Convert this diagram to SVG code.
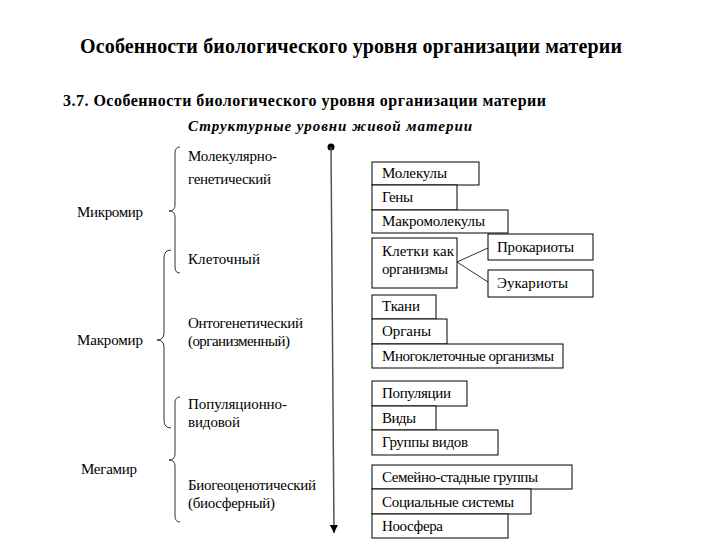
<svg xmlns="http://www.w3.org/2000/svg" width="720" height="540" viewBox="0 0 720 540">
<style>
text{font-family:"Liberation Serif","Times New Roman","DejaVu Serif",serif;fill:#000}
.t1{font-size:20px;font-weight:bold}
.t2{font-size:16px;font-weight:bold}
.t3{font-size:15px;font-weight:bold;font-style:italic}
.lb{font-size:15px}
.bx{fill:#fff;stroke:#000;stroke-width:1}
.br{fill:none;stroke:#333;stroke-width:1}
.cn{fill:none;stroke:#333;stroke-width:1}
</style>
<defs>
<marker id="ah" viewBox="0 0 10 10" refX="10" refY="5" markerWidth="8" markerHeight="8" markerUnits="userSpaceOnUse" orient="auto">
<path d="M0,0 L10,5 L0,10 z" fill="#000"/>
</marker>
</defs>
<rect width="720" height="540" fill="#fff"/>
<g id="titles">
<text class="t1" x="80" y="53" textLength="542">Особенности биологического уровня организации материи</text>
<text class="t2" x="63" y="106" textLength="483">3.7. Особенности биологического уровня организации материи</text>
<text class="t3" x="188" y="131" textLength="284">Структурные уровни живой материи</text>
</g>
<g id="connectors">
<circle cx="331" cy="147" r="3.5" fill="#000"/>
<line x1="331" y1="147" x2="334" y2="533" stroke="#555" stroke-width="1.5" marker-end="url(#ah)"/>
<line class="cn" x1="457" y1="262" x2="488" y2="248"/>
<line class="cn" x1="457" y1="262" x2="488" y2="282"/>
</g>
<g id="braces">
<path class="br" d="M180,147 Q175,147 175,153 L175,205 Q175,211 169,211 Q175,211 175,217 L175,267 Q175,273 180,273"/>
<path class="br" d="M171,250 Q164,250 164,258 L164,333 Q164,340 157,340 Q164,340 164,347 L164,420 Q164,428 171,428"/>
<path class="br" d="M180,397 Q175,397 175,403 L175,454 Q175,460 169,460 Q175,460 175,466 L175,516 Q175,522 180,522"/>
</g>
<g id="scale-labels">
<text class="lb" x="77" y="217" textLength="66">Микромир</text>
<text class="lb" x="77" y="345" textLength="66">Макромир</text>
<text class="lb" x="81" y="474" textLength="56">Мегамир</text>
</g>
<g id="level-labels">
<text class="lb" x="188" y="161" textLength="89">Молекулярно-</text>
<text class="lb" x="188" y="184" textLength="83">генетический</text>
<text class="lb" x="188" y="264" textLength="72">Клеточный</text>
<text class="lb" x="188" y="328" textLength="115">Онтогенетический</text>
<text class="lb" x="188" y="346" textLength="102">(организменный)</text>
<text class="lb" x="188" y="409" textLength="99">Популяционно-</text>
<text class="lb" x="188" y="427" textLength="52">видовой</text>
<text class="lb" x="188" y="490" textLength="128">Биогеоценотический</text>
<text class="lb" x="188" y="508" textLength="87">(биосферный)</text>
</g>
<g id="n-molecules"><rect class="bx" x="372" y="162" width="107" height="23"/><text class="lb" x="382" y="178" textLength="65">Молекулы</text></g>
<g id="n-genes"><rect class="bx" x="372" y="185" width="85" height="25"/><text class="lb" x="382" y="202" textLength="31">Гены</text></g>
<g id="n-macromolecules"><rect class="bx" x="372" y="210" width="136" height="23"/><text class="lb" x="382" y="226" textLength="103">Макромолекулы</text></g>
<g id="n-cells"><rect class="bx" x="372" y="238" width="85" height="50"/><text class="lb" x="382" y="256" textLength="72">Клетки как</text><text class="lb" x="382" y="274" textLength="66">организмы</text></g>
<g id="n-prokaryotes"><rect class="bx" x="488" y="234" width="105" height="26"/><text class="lb" x="497" y="252" textLength="77">Прокариоты</text></g>
<g id="n-eukaryotes"><rect class="bx" x="488" y="270" width="105" height="27"/><text class="lb" x="497" y="288" textLength="71">Эукариоты</text></g>
<g id="n-tissues"><rect class="bx" x="372" y="295" width="64" height="24"/><text class="lb" x="382" y="311" textLength="38">Ткани</text></g>
<g id="n-organs"><rect class="bx" x="372" y="319" width="75" height="25"/><text class="lb" x="382" y="336" textLength="49">Органы</text></g>
<g id="n-multicellular"><rect class="bx" x="372" y="344" width="191" height="24"/><text class="lb" x="382" y="361" textLength="172">Многоклеточные организмы</text></g>
<g id="n-populations"><rect class="bx" x="372" y="381" width="95" height="25"/><text class="lb" x="382" y="398" textLength="69">Популяции</text></g>
<g id="n-species"><rect class="bx" x="372" y="406" width="64" height="24"/><text class="lb" x="382" y="423" textLength="34">Виды</text></g>
<g id="n-species-groups"><rect class="bx" x="372" y="430" width="126" height="25"/><text class="lb" x="382" y="447" textLength="86">Группы видов</text></g>
<g id="n-family-herd"><rect class="bx" x="372" y="465" width="200" height="24"/><text class="lb" x="382" y="482" textLength="156">Семейно-стадные группы</text></g>
<g id="n-social"><rect class="bx" x="372" y="489" width="159" height="25"/><text class="lb" x="382" y="507" textLength="132">Социальные системы</text></g>
<g id="n-noosphere"><rect class="bx" x="372" y="514" width="136" height="24"/><text class="lb" x="382" y="531" textLength="61">Ноосфера</text></g>
</svg>
